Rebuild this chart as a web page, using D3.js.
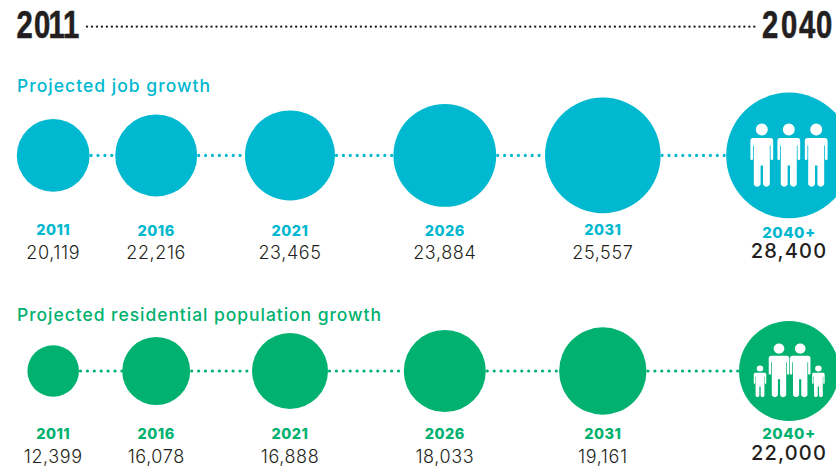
<!DOCTYPE html>
<html>
<head>
<meta charset="utf-8">
<script src="https://cdn.jsdelivr.net/npm/d3@7"></script>
<style>
  html, body { margin: 0; padding: 0; background: #fff; }
  svg { display: block; }
  text { font-family: Inter, "Noto Sans", sans-serif; }
</style>
</head>
<body>
<svg id="chart" width="836" height="472"></svg>
<script>
// Chart values
const years = ["2011", "2016", "2021", "2026", "2031", "2040+"];
const jobValues = [20119, 22216, 23465, 23884, 25557, 28400];
const residentValues = [12399, 16078, 16888, 18033, 19161, 22000];
const spanLabels = ["2011", "2040"];
const jobTitle = "Projected job growth";
const residentTitle = "Projected residential population growth";

const INK = "#231f20";
const CYAN = "#00b8cf";
const GREEN = "#00b16f";

const svg = d3.select("#chart");
const fmt = d3.format(",");

// Milestones sit at hand-spaced stops along the timeline
const x = d3.scaleOrdinal().domain(years).range([53.2, 156.2, 290, 444.8, 602.8, 789]);

// Each row has its own bubble sizing, stepped through the row's values
const rJob = d3.scaleLinear().domain(jobValues).range([36.4, 41, 45, 51.4, 57.8, 62.8]);
const rResident = d3.scaleLinear().domain(residentValues).range([25.8, 34, 38, 41, 43.7, 50]);

// Adult pictogram, origin at the top centre of the head
function personPath() {
  const p = d3.path();
  p.moveTo(6, 6); p.arc(0, 6, 6, 0, 2 * Math.PI);
  p.moveTo(-8.6, 14.5);
  p.lineTo(8.6, 14.5);
  p.quadraticCurveTo(11.4, 14.5, 11.4, 17.5);
  p.lineTo(11.4, 35.5);
  p.quadraticCurveTo(10, 38, 8.8, 35.5);
  p.lineTo(8.8, 22);
  p.lineTo(8, 22);
  p.lineTo(8, 61);
  p.quadraticCurveTo(4.6, 65.5, 1.2, 61);
  p.lineTo(1.2, 42);
  p.lineTo(-1.2, 42);
  p.lineTo(-1.2, 61);
  p.quadraticCurveTo(-4.6, 65.5, -8, 61);
  p.lineTo(-8, 22);
  p.lineTo(-8.8, 22);
  p.lineTo(-8.8, 35.5);
  p.quadraticCurveTo(-10, 38, -11.4, 35.5);
  p.lineTo(-11.4, 17.5);
  p.quadraticCurveTo(-11.4, 14.5, -8.6, 14.5);
  p.closePath();
  return p.toString();
}

// Timeline header: condensed year stamps joined by a dotted rule
svg.append("line")
  .attr("x1", 87).attr("x2", 757).attr("y1", 26.6).attr("y2", 26.6)
  .attr("stroke", INK).attr("stroke-width", 2.4)
  .attr("stroke-linecap", "round").attr("stroke-dasharray", "0 4.98");

// Glyph stops are set one by one to keep the stamps evenly tracked
const stampSquash = 0.76;
const stampStops = [[16.5, 34, 48.5, 63], [762, 781, 799, 816]];
svg.selectAll("text.span")
  .data(spanLabels)
  .join("text")
  .attr("class", "span")
  .attr("transform", `scale(${stampSquash},1)`)
  .attr("x", (d, i) => stampStops[i].map(v => v / stampSquash).join(" "))
  .attr("y", 38)
  .attr("fill", INK)
  .attr("stroke", INK)
  .attr("stroke-width", 0.6)
  .style("font-family", "'Liberation Sans', sans-serif")
  .style("font-weight", 700)
  .style("font-size", "38.5px")
  .text(d => d);

// One row of bubbles joined by a dotted connector, with labels below
function drawRow(cfg) {
  const g = svg.append("g");

  g.append("text")
    .attr("x", 17).attr("y", cfg.titleY)
    .attr("textLength", cfg.titleWidth)
    .attr("lengthAdjust", "spacing")
    .attr("fill", cfg.color)
    .style("font-size", "17.5px").style("font-weight", 500)
    .text(cfg.title);

  g.selectAll("line")
    .data(d3.pairs(years))
    .join("line")
    .attr("x1", ([a]) => x(a) + cfg.r(cfg.values[years.indexOf(a)]) + 1.5)
    .attr("x2", ([, b]) => x(b) - cfg.r(cfg.values[years.indexOf(b)]))
    .attr("y1", cfg.cy).attr("y2", cfg.cy)
    .attr("stroke", cfg.color).attr("stroke-width", 3.2)
    .attr("stroke-linecap", "round").attr("stroke-dasharray", "0 6.9");

  g.selectAll("circle")
    .data(years)
    .join("circle")
    .attr("cx", d => x(d))
    .attr("cy", cfg.cy)
    .attr("r", (d, i) => cfg.r(cfg.values[i]))
    .attr("fill", cfg.color);

  g.selectAll("text.year")
    .data(years)
    .join("text")
    .attr("class", "year")
    .attr("x", d => x(d))
    .attr("y", (d, i) => cfg.yearY + cfg.yearNudge[i])
    .attr("text-anchor", "middle")
    .attr("fill", cfg.color)
    .style("font-size", (d, i) => i === 5 ? "15px" : "14.5px")
    .style("font-weight", 800)
    .style("letter-spacing", "0.5px")
    .text(d => d);

  g.selectAll("text.value")
    .data(cfg.values)
    .join("text")
    .attr("class", "value")
    .attr("x", (d, i) => x(years[i]))
    .attr("y", (d, i) => i === 5 ? cfg.totalY : cfg.valueY)
    .attr("text-anchor", "middle")
    .attr("fill", INK)
    .style("font-size", (d, i) => i === 5 ? "20px" : "18px")
    .style("font-weight", (d, i) => i === 5 ? 500 : 300)
    .style("letter-spacing", (d, i) => i === 5 ? "1.2px" : "0.6px")
    .text(d => fmt(d));

  g.selectAll("path.person")
    .data(cfg.people)
    .join("path")
    .attr("class", "person")
    .attr("d", personPath())
    .attr("fill", "#fff")
    .attr("transform", d => `translate(${x("2040+") + d.dx},${cfg.cy + d.dy}) scale(${d.sx},${d.sy})`);
}

drawRow({
  title: jobTitle, titleY: 92, titleWidth: 193,
  values: jobValues, r: rJob, color: CYAN, cy: 155.4,
  yearY: 236, yearNudge: [-0.8, 0, 0, 0, -0.8, 2],
  valueY: 259, totalY: 257.5,
  people: [
    { dx: -27.2, dy: -32, sx: 1, sy: 1 },
    { dx: -0.2, dy: -32, sx: 1, sy: 1 },
    { dx: 27.2, dy: -32, sx: 1, sy: 1 }
  ]
});

drawRow({
  title: residentTitle, titleY: 320.5, titleWidth: 364,
  values: residentValues, r: rResident, color: GREEN, cy: 371,
  yearY: 439, yearNudge: [0, 0, 0, 0, 0, 0],
  valueY: 462.5, totalY: 460,
  people: [
    { dx: -10, dy: -27.5, sx: 0.9, sy: 0.85 },
    { dx: 11.2, dy: -27.5, sx: 0.9, sy: 0.85 },
    { dx: -29, dy: -5.5, sx: 0.55, sy: 0.5 },
    { dx: 29.4, dy: -5.5, sx: 0.55, sy: 0.5 }
  ]
});
</script>
</body>
</html>
